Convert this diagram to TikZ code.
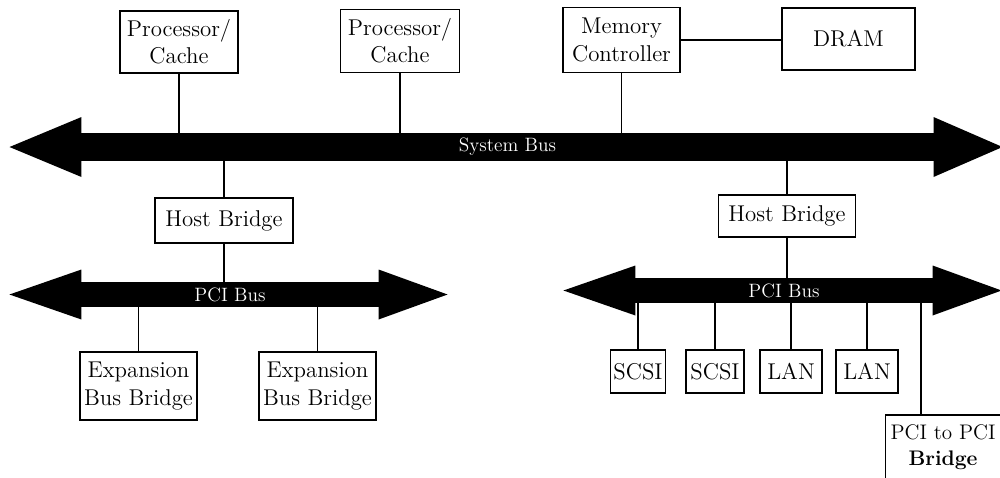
\documentclass[tikz,border=0pt]{standalone}
\begin{document}
\begin{tikzpicture}[
    x=0.02cm, y=-0.02cm,
    box/.style={rectangle, draw, thick, inner sep=1pt, align=center, font=\fontsize{13}{15.5}\selectfont},
    bus/.style={rectangle, fill=black, text=white, inner sep=0pt, font=\fontsize{11}{13}\selectfont},
    link/.style={thick}
]
\useasboundingbox (0,0) rectangle (1000,477);

% Top row
\node[box, minimum width=2.36cm, minimum height=1.24cm] (proc1) at (179,42) {Processor/\\Cache};
\node[box, minimum width=2.38cm, minimum height=1.26cm] (proc2) at (400,41) {Processor/\\Cache};
\node[box, minimum width=2.34cm, minimum height=1.3cm] (memctrl) at (621.5,40) {Memory\\Controller};
\node[box, minimum width=2.66cm, minimum height=1.24cm] (dram) at (848.5,39) {DRAM};

% Buses
\node[bus, minimum width=17.1cm, minimum height=0.56cm] (sysbus) at (507.5,147) {System Bus};
\node[bus, minimum width=6cm, minimum height=0.5cm] (pcil) at (230,294.5) {PCI Bus};
\node[bus, minimum width=6cm, minimum height=0.5cm] (pcir) at (784,290.5) {PCI Bus};
\foreach \b/\h in {sysbus/30, pcil/25, pcir/25} {
    \fill ([xshift=1pt]\b.west) ++(0,-\h) -- ++(-72,\h) -- ++(72,\h) -- cycle;
    \fill ([xshift=-1pt]\b.east) ++(0,-\h) -- ++(69,\h) -- ++(-69,\h) -- cycle;
}

% Host bridges
\node[box, minimum width=2.76cm, minimum height=0.9cm] (hostl) at (224,220.5) {Host Bridge};
\node[box, minimum width=2.74cm, minimum height=0.84cm] (hostr) at (787,216) {Host Bridge};

% Devices
\node[box, minimum width=2.34cm, minimum height=1.36cm] (exp1) at (138.5,386) {Expansion\\Bus Bridge};
\node[box, minimum width=2.34cm, minimum height=1.36cm] (exp2) at (317.5,386) {Expansion\\Bus Bridge};
\node[box, minimum width=1.1cm, minimum height=0.86cm] (scsi1) at (638,371.5) {SCSI};
\node[box, minimum width=1.16cm, minimum height=0.86cm] (scsi2) at (715,371.5) {SCSI};
\node[box, minimum width=1.24cm, minimum height=0.86cm] (lan1) at (791,371.5) {LAN};
\node[box, minimum width=1.24cm, minimum height=0.86cm] (lan2) at (867,371.5) {LAN};
\node[box, minimum width=2.3cm, minimum height=1.3cm, font=\fontsize{12}{15}\selectfont] (p2p) at (943,447.5) {PCI to PCI\\\textbf{Bridge}};

% Connections
\foreach \n in {proc1, proc2, memctrl}
    \draw[link] (\n) -- (\n |- sysbus.north);
\draw[link] (memctrl.east) -- (memctrl.east -| dram.west);
\draw[link] (hostl) -- (hostl |- sysbus.south);
\draw[link] (hostr) -- (hostr |- sysbus.south);
\draw[link] (hostl) -- (hostl |- pcil.north);
\draw[link] (hostr) -- (hostr |- pcir.north);
\foreach \n in {exp1, exp2}
    \draw[link] (\n) -- (\n |- pcil.south);
\foreach \n in {scsi1, scsi2, lan1, lan2}
    \draw[link] (\n) -- (\n |- pcir.south);
\draw[link] ([xshift=0.72cm]p2p.north west) -- ([xshift=0.72cm]p2p.north west |- pcir.south);

\end{tikzpicture}
\end{document}
